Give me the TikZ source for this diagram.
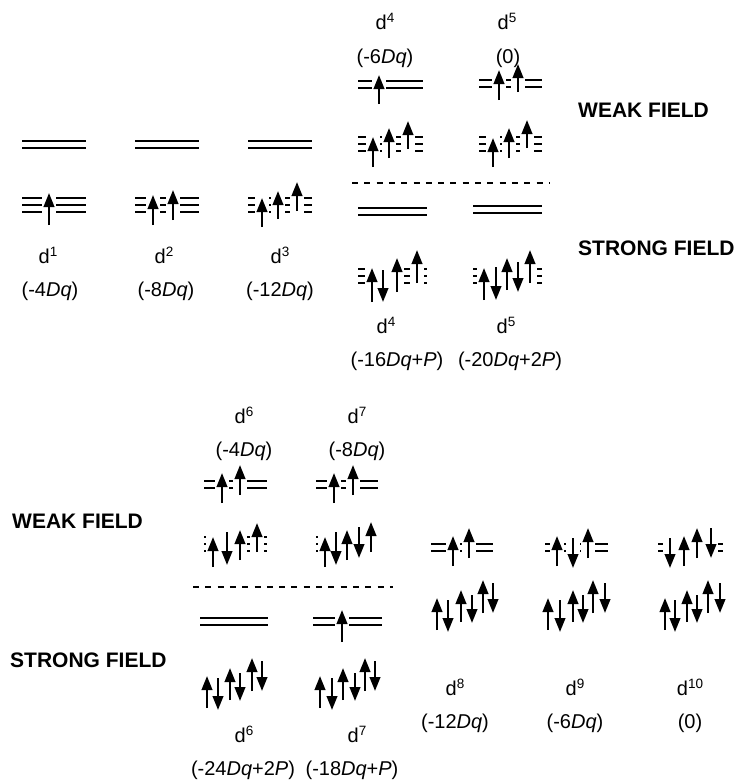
\documentclass[tikz,border=0pt]{standalone}
\usepackage{fontspec}
\setmainfont{Liberation Sans}
\usetikzlibrary{arrows.meta}
\tikzset{
 orbline/.style={line width=2pt},
 elec/.style={line width=2.4pt, -{Triangle[width=10.5pt,length=14pt]}},
 lbl/.style={font=\fontsize{20}{22}\selectfont, anchor=base, inner sep=0pt},
 fieldlbl/.style={font=\fontsize{21}{24}\selectfont\bfseries, anchor=base west, inner sep=0pt},
 sepline/.style={line width=1.8pt, dash pattern=on 6pt off 6.3pt},
}
\newcommand\dsup[1]{d\raisebox{6.5pt}{\fontsize{13.5}{14}\selectfont #1}}
\newcommand\lev[4]{\foreach \ii in {1,...,#4}{\draw[orbline] (#1,{#3+(\ii-1)*7}) -- (#2,{#3+(\ii-1)*7});}}
\newcommand\orbset[5]{\lev{#1}{#2}{#3}{#4}%
  \foreach \ax/\at/\ah in {#5}{\fill[white] ({\ax-6.8},{#3-2}) rectangle ({\ax+6.8},{#3+(#4-1)*7+2});}%
  \foreach \ax/\at/\ah in {#5}{\draw[elec] (\ax,\at) -- (\ax,\ah);}}
\begin{document}
\begin{tikzpicture}[x=1pt,y=-1pt]
\useasboundingbox (0,0) rectangle (739,782);
% ---- row 1: d1-d3
\lev{22}{86}{141}{2}
\orbset{22}{86}{198}{3}{49/225/193}
\lev{135}{199}{141}{2}
\orbset{135}{199}{198}{3}{153/225/195, 173/220/190}
\lev{248}{312}{141}{2}
\orbset{248}{312}{198}{3}{262/227/198, 278/219/191, 297/211/182}
\node[lbl] (l1) at (48,263) {\dsup{1}};
\node[lbl] (e1) at (50,296) {(-4\textit{Dq})};
\node[lbl] (l2) at (164,263) {\dsup{2}};
\node[lbl] (e2) at (166,296) {(-8\textit{Dq})};
\node[lbl] (l3) at (280,263) {\dsup{3}};
\node[lbl] (e3) at (280,296) {(-12\textit{Dq})};
% ---- d4, d5 weak
\node[lbl] (l4w) at (385,29) {\dsup{4}};
\node[lbl] (e4w) at (385,63) {(-6\textit{Dq})};
\node[lbl] (l5w) at (507,29) {\dsup{5}};
\node[lbl] (e5w) at (508,63) {(0)};
\orbset{358}{423}{81}{2}{379/104/75}
\orbset{358}{423}{137}{3}{373/167/137, 389/158/128, 408/149/121}
\orbset{479}{542}{80}{2}{499/100/70, 518/92/64}
\orbset{479}{542}{137}{3}{493/167/138, 509/158/128, 527/148/120}
\draw[sepline] (352,183) -- (550,183);
% ---- d4, d5 strong
\lev{358}{427}{208}{2}
\orbset{358}{427}{269}{3}{372/302/268, 383/270/302, 397/292/258, 417/283/250}
\lev{473}{542}{206}{2}
\orbset{473}{542}{269}{3}{484/300/268, 496/267/300, 507/290/258, 518/262/292, 530/283/250}
\node[lbl] (l4s) at (386,333) {\dsup{4}};
\node[lbl] (e4s) at (397,366) {(-16\textit{Dq}+\textit{P})};
\node[lbl] (l5s) at (506,333) {\dsup{5}};
\node[lbl] (e5s) at (510,366) {(-20\textit{Dq}+2\textit{P})};
\node[fieldlbl] (wf1) at (578,117) {WEAK FIELD};
\node[fieldlbl] (sf1) at (578,255) {STRONG FIELD};
% ---- row 2: d6, d7 weak
\node[lbl] (l6w) at (244,423) {\dsup{6}};
\node[lbl] (e6w) at (244,456) {(-4\textit{Dq})};
\node[lbl] (l7w) at (357,423) {\dsup{7}};
\node[lbl] (e7w) at (357,456) {(-8\textit{Dq})};
\orbset{204}{267}{481}{2}{222/503/473, 240/495/465}
\orbset{204}{267}{537}{3}{213/567/537, 227/532/565, 240/560/530, 257/552/523}
\orbset{316}{378}{481}{2}{334/503/473, 353/495/465}
\orbset{316}{378}{537}{3}{325/567/537, 336/532/565, 347/560/530, 359/527/558, 371/552/522}
\draw[sepline] (193,587) -- (393,587);
% ---- d6, d7 strong
\lev{200}{268}{618}{2}
\orbset{200}{268}{678}{3}{207/708/676, 218/678/710, 230/700/668, 240/673/701, 252/691/658, 262/661/691}
\orbset{313}{382}{618}{2}{342/642/610}
\orbset{313}{382}{678}{3}{320/708/676, 332/678/710, 343/700/668, 355/673/701, 365/691/658, 375/661/691}
\node[lbl] (l6s) at (244,742) {\dsup{6}};
\node[lbl] (e6s) at (243,775) {(-24\textit{Dq}+2\textit{P})};
\node[lbl] (l7s) at (357,742) {\dsup{7}};
\node[lbl] (e7s) at (352,775) {(-18\textit{Dq}+\textit{P})};
\node[fieldlbl] (wf2) at (12,528) {WEAK FIELD};
\node[fieldlbl] (sf2) at (10,667) {STRONG FIELD};
% ---- d8, d9, d10
\orbset{431}{493}{544}{2}{453/566/536, 469/558/528}
\orbset{430}{498}{600}{3}{437/630/598, 448/600/632, 461/622/590, 472/595/623, 483/613/580, 493/583/613}
\orbset{545}{608}{544}{2}{557/566/536, 573/538/568, 588/558/528}
\orbset{543}{610}{600}{3}{548/630/598, 560/600/632, 573/622/590, 583/595/623, 593/613/580, 605/583/613}
\orbset{658}{723}{544}{2}{670/538/568, 684/566/536, 697/558/528, 711/528/558}
\orbset{658}{724}{600}{3}{665/630/598, 675/600/632, 687/622/590, 697/595/623, 708/613/580, 720/583/613}
\node[lbl] (l8) at (455,695) {\dsup{8}};
\node[lbl] (e8) at (455,728) {(-12\textit{Dq})};
\node[lbl] (l9) at (575,695) {\dsup{9}};
\node[lbl] (e9) at (575,728) {(-6\textit{Dq})};
\node[lbl] (l10) at (690,695) {\dsup{10}};
\node[lbl] (e10) at (690,728) {(0)};
\end{tikzpicture}
\end{document}
